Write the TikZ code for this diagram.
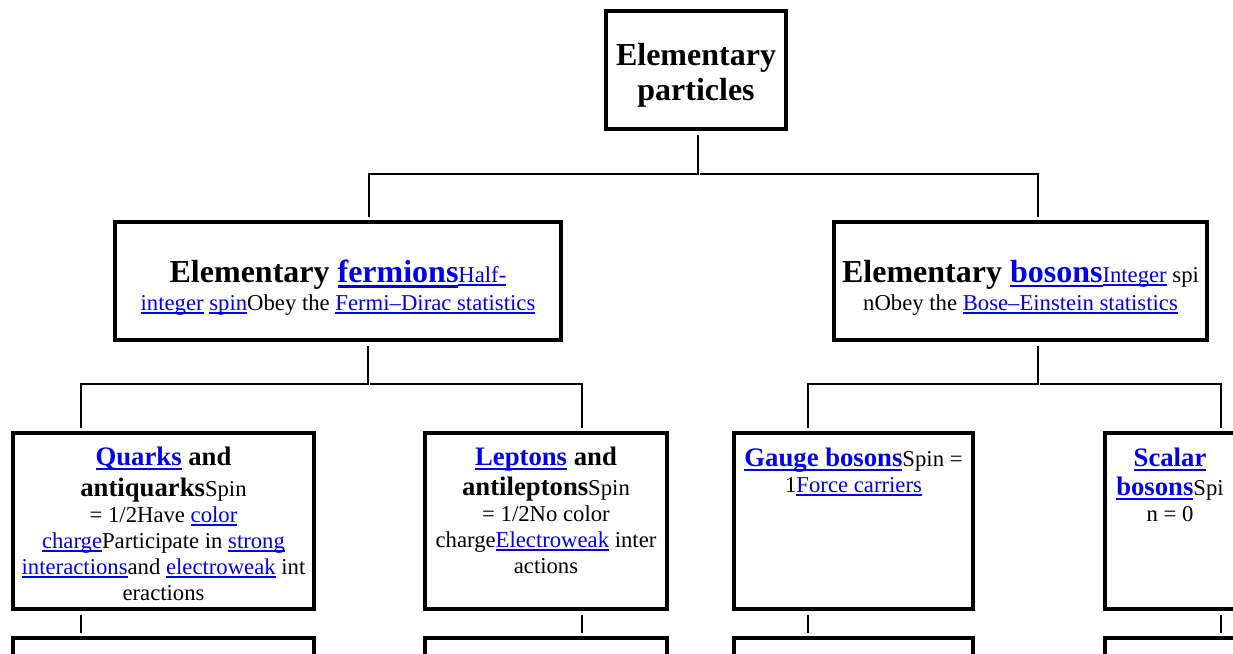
\documentclass[tikz,border=0pt]{standalone}
\usepackage{fontspec}
\setmainfont{Liberation Serif}
\usetikzlibrary{positioning}

\definecolor{linkblue}{RGB}{0,0,238}
\newsavebox\lnkbox
\newcommand{\lnk}[1]{{\color{linkblue}\sbox\lnkbox{#1}\rlap{\rule[-0.15em]{\wd\lnkbox}{0.075em}}\usebox\lnkbox}}
\newcommand{\bighead}{\fontsize{32}{35}\selectfont\bfseries}
\newcommand{\subhead}{\fontsize{26.7}{31}\selectfont\bfseries}
\newcommand{\txtsize}{\fontsize{22.7}{26}\selectfont}

\begin{document}
\begin{tikzpicture}[x=1pt,y=-1pt,
		box/.style={draw,line width=4pt,inner sep=0pt},
		txt/.style={inner sep=0pt,align=center,font=\txtsize},
		wire/.style={line width=2pt,shorten <=4pt,shorten >=3pt}]
		\useasboundingbox (0,0) rectangle (1233,653);
		\fill[white] (0,0) rectangle (1233,653);
		\clip (0,0) rectangle (1233,653);
		% boxes
		\node[box,minimum width=180pt,minimum height=118pt] (top) at (696,70) {};
		\node[box,minimum width=446pt,minimum height=118pt] (fer) at (338,281) {};
		\node[box,minimum width=373pt,minimum height=118pt] (bos) at (1020.5,281) {};
		\foreach \n/\x/\w in {quarks/163.5/301, leptons/546/242, gauge/853.5/239, scalar/1170/130} {
			\node[box,minimum width=\w pt,minimum height=176pt] (\n) at (\x,521) {};
			\node[box,minimum width=\w pt,minimum height=100pt,below=25pt of \n] (\n-b) {};
		}
		% texts
		\node[txt,font=\bighead,below=34pt of top.north] (top-t) {Elementary\\particles};
		\node[txt,font=\fontsize{22.7}{28}\selectfont,below=40pt of fer.north] (fer-t)
			{{\bighead Elementary \lnk{fermions}}\lnk{Half-}\\\lnk{integer} \lnk{spin}Obey the \lnk{Fermi–Dirac statistics}};
		\node[txt,font=\fontsize{22.7}{28}\selectfont,below=40pt of bos.north] (bos-t)
			{{\bighead Elementary \lnk{bosons}}\lnk{Integer} spi\\nObey the \lnk{Bose–Einstein statistics}};
		\node[txt,below=16pt of quarks.north] (quarks-t)
			{{\subhead\lnk{Quarks} and}\\[4.7pt]{\subhead antiquarks}Spin\\= 1/2Have \lnk{color}\\\lnk{charge}Participate in \lnk{strong}\\\lnk{interactions}and \lnk{electroweak} int\\eractions};
		\node[txt,below=16pt of leptons.north] (leptons-t)
			{{\subhead\lnk{Leptons} and}\\[3.5pt]{\subhead antileptons}Spin\\= 1/2No color\\charge\lnk{Electroweak} inter\\actions};
		\node[txt,below=17pt of gauge.north] (gauge-t)
			{{\subhead\lnk{Gauge bosons}}Spin =\\1\lnk{Force carriers}};
		\node[txt,below=17pt of scalar.north] (scalar-t)
			{{\subhead\lnk{Scalar}}\\[3pt]{\subhead\lnk{bosons}}Spi\\n = 0};
		% connectors
		\draw[wire] ([xshift=2pt]top.south) -- ++(0,43) coordinate (j0) -| ([xshift=31pt]fer.north);
		\draw[wire,shorten <=2pt] (j0) -| ([xshift=17.5pt]bos.north);
		\draw[wire] ([xshift=30pt]fer.south) -- ++(0,42) coordinate (j1) -| ([xshift=-82.5pt]quarks.north);
		\draw[wire,shorten <=2pt] (j1) -| ([xshift=36pt]leptons.north);
		\draw[wire] ([xshift=17.5pt]bos.south) -- ++(0,42) coordinate (j2) -| ([xshift=-45.5pt]gauge.north);
		\draw[wire,shorten <=2pt] (j2) -| ([xshift=51pt]scalar.north);
		\foreach \n/\dx in {quarks/-82.5, leptons/36, gauge/-45.5, scalar/51}
			\draw[wire] ([xshift=\dx pt]\n.south) -- ([xshift=\dx pt]\n-b.north);
	\end{tikzpicture}
\end{document}
